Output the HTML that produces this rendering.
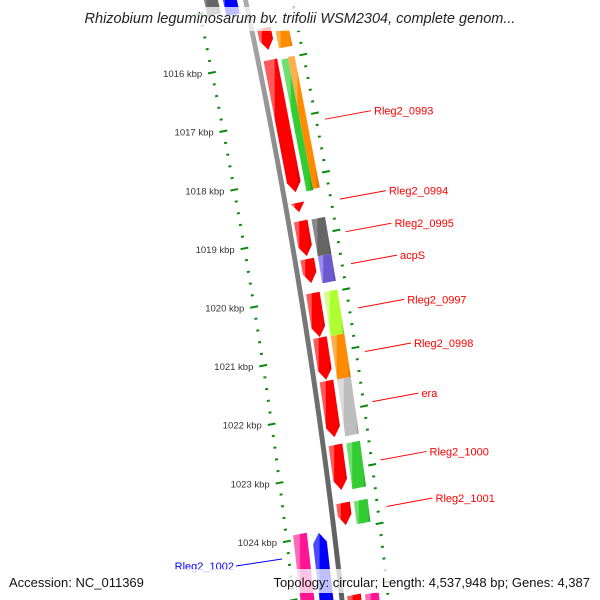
<!DOCTYPE html>
<html><head><meta charset="utf-8"><style>
html,body{margin:0;padding:0;background:#fff;width:600px;height:600px;overflow:hidden}
svg{display:block;overflow:hidden;font-family:"Liberation Sans",sans-serif}
</style></head><body>
<svg id="map" width="600" height="600" viewBox="0 0 600 600" xmlns="http://www.w3.org/2000/svg">
<defs>
<linearGradient id="gbb" x1="0" x2="1" y1="0" y2="0"><stop offset="0" stop-color="#bdbdbd"/><stop offset="0.4" stop-color="#888"/><stop offset="1" stop-color="#555"/></linearGradient>
<clipPath id="frame"><rect x="0" y="0" width="600" height="600"/></clipPath>
</defs>
<g id="layer" clip-path="url(#frame)"></g>
<rect x="0" y="7" width="600" height="24" fill="#fff" fill-opacity="0.75"/>
<text x="300" y="23" text-anchor="middle" font-size="14.5" font-style="italic" fill="#222">Rhizobium leguminosarum bv. trifolii WSM2304, complete genom...</text>
<rect x="0" y="569" width="600" height="24" fill="#fff" fill-opacity="0.75"/>
<text x="9" y="587" font-size="13" fill="#111">Accession: NC_011369</text>
<text x="590" y="587" text-anchor="end" font-size="13" fill="#111">Topology: circular; Length: 4,537,948 bp; Genes: 4,387</text>
</svg>
<script>
// feature data (kbp)
const featStart = [1015.44,1015.98,1018.42,1018.73,1019.38,1019.96,1020.72,1021.46,1022.55,1023.54,1025.11,
                   1015.53,1016.01,1015.99,1018.74,1019.37,1019.98,1020.73,1021.47,1022.56,1023.55,1025.14,
                   1023.92,1023.96,1014.5,1014.5];
const featEnd   = [1015.81,1018.24,1018.58,1019.33,1019.79,1020.71,1021.44,1022.42,1023.32,1023.92,1026.0,
                   1015.82,1018.26,1018.24,1019.37,1019.83,1020.73,1021.47,1022.44,1023.34,1023.94,1026.0,
                   1025.3,1025.3,1015.06,1015.12];
const featTrack = ['in','in','in','in','in','in','in','in','in','in','in',
                   'out','outA','outB','out','out','out','out','out','out','out','out',
                   'in2a','in2b','in2a','in2b'];
const featColor = ['red','red','red','red','red','red','red','red','red','red','red',
                   'orange','green','orange','gray','purple','lime','orange','silver','green','green','pink',
                   'pink','blue','gray','blue'];
const featDir   = ['-','-','-','-','-','-','-','-','-','-','-',
                   '0','0','0','0','0','0','0','0','0','0','0',
                   '0','+','0','0'];
const labelNames = ['Rleg2_0993','Rleg2_0994','Rleg2_0995','acpS','Rleg2_0997','Rleg2_0998','era','Rleg2_1000','Rleg2_1001','Rleg2_1002'];
const labelFeat  = [12,2,14,15,16,17,18,19,20,23];
const tickStartKbp = 1015, tickEndKbp = 1025.4, tickStepKbp = 0.2;

const NS='http://www.w3.org/2000/svg';
const layer=document.getElementById('layer');
const defs=document.querySelector('defs');
function sOf(k){return 63.5+(k-1016)*58.6;}
function P(u,s){const y=s-0.19*(u-260);const d=y-73;return [u+0.2*d-8.6e-5*d*d,y];}
function mk(tag,attrs){const e=document.createElementNS(NS,tag);for(const k in attrs)e.setAttribute(k,attrs[k]);return e;}
const palette={red:['#ff5a5a','#ff0000','#cc0000'],orange:['#ffb04d','#ff8c00','#c86a00'],green:['#6fe06f','#32cd32','#1f8f1f'],
 gray:['#8a8a8a','#666','#444'],purple:['#9a8cf0','#6a5acd','#4a3aa0'],lime:['#d4ff8a','#adff2f','#7fc020'],
 silver:['#dcdcdc','#bebebe','#999'],pink:['#ff6ab8','#ff1493','#c00c6e'],blue:['#4a4aff','#0000ff','#0000b0']};
for(const c in palette){const g=mk('linearGradient',{id:'g'+c,x1:0,x2:1,y1:0,y2:0});const p=palette[c];
 [[0,p[0]],[0.28,p[0]],[0.32,p[1]],[0.85,p[1]],[1,p[2]]].forEach(st=>g.appendChild(mk('stop',{offset:st[0],'stop-color':st[1]})));defs.appendChild(g);}
const tracks={in:[266,280],out:[284,298],outA:[284,291],outB:[291,298],in2a:[219,233],in2b:[238,252]};

// backbone
{let pts=[];for(let s=-60;s<=700;s+=20){pts.push(P(258,s));}for(let s=700;s>=-60;s-=20){pts.push(P(263,s));}
 const bb=mk('polygon',{points:pts.map(p=>p.join(',')).join(' '),fill:'url(#gbb)'});
 
 
 layer.appendChild(bb);}

function side_ok(k){return k>=1016&&k<=1024;}
// ticks
for(let k=tickStartKbp;k<=tickEndKbp+1e-6;k+=tickStepKbp){
 const kr=Math.round(k*10)/10;const major=Math.abs(kr-Math.round(kr))<1e-6;const s=sOf(kr);
 [[212,'inner'],[307,'outer']].forEach(([u,side])=>{
  const h=major?4:1.5;const a=P(u-h,s),b=P(u+h,s);
  const ln=mk('line',{x1:a[0],y1:a[1],x2:b[0],y2:b[1],stroke:'#0a8a0a','stroke-width':2});
  
  
  layer.appendChild(ln);});
 if(major&&side_ok(kr)){const p=P(204,s);const t=mk('text',{x:p[0]-2,y:p[1]+3,'text-anchor':'end','font-size':9.5,fill:'#333'});
  t.textContent=Math.round(kr)+' kbp';
  
  
  layer.appendChild(t);}
}

// features
for(let i=0;i<featStart.length;i++){
 const [u0,u1]=tracks[featTrack[i]];const a=sOf(featStart[i]),b=sOf(featEnd[i]);const um=(u0+u1)/2;const h=Math.min(10,b-a);
 let q;
 if(featDir[i]==='-')q=[[u0,a],[u1,a],[u1,b-h],[um,b],[u0,b-h]];
 else if(featDir[i]==='+')q=[[um,a],[u1,a+h],[u1,b],[u0,b],[u0,a+h]];
 else q=[[u0,a],[u1,a],[u1,b],[u0,b]];
 const pts=q.map(([u,s])=>P(u,s).join(',')).join(' ');
 const f=mk('polygon',{points:pts,fill:'url(#g'+featColor[i]+')'});
 
 
 layer.appendChild(f);
}

// labels
for(let j=0;j<labelNames.length;j++){
 const i=labelFeat[j];const s=(sOf(featStart[i])+sOf(Math.min(featEnd[i],1024.6)))/2;
 const blue=featColor[i]==='blue';let a,b,tx,anchor;
 if(!blue){a=P(317,s);a=[a[0]-1,a[1]];b=[a[0]+46,a[1]-8.5];tx=b[0]+3;anchor='start';}
 else{a=[282,559];b=[a[0]-46,a[1]+7];tx=b[0]-2;anchor='end';}
 const col=blue?'#0000ff':'#ff0000';
 const ln=mk('line',{x1:a[0],y1:a[1],x2:b[0],y2:b[1],stroke:col,'stroke-width':1});
 
 
 layer.appendChild(ln);
 const t=mk('text',{x:tx,y:b[1]+4,'text-anchor':anchor,'font-size':11,fill:col});
 t.textContent=labelNames[j];
 
 
 layer.appendChild(t);
}
</script>
</body></html>
